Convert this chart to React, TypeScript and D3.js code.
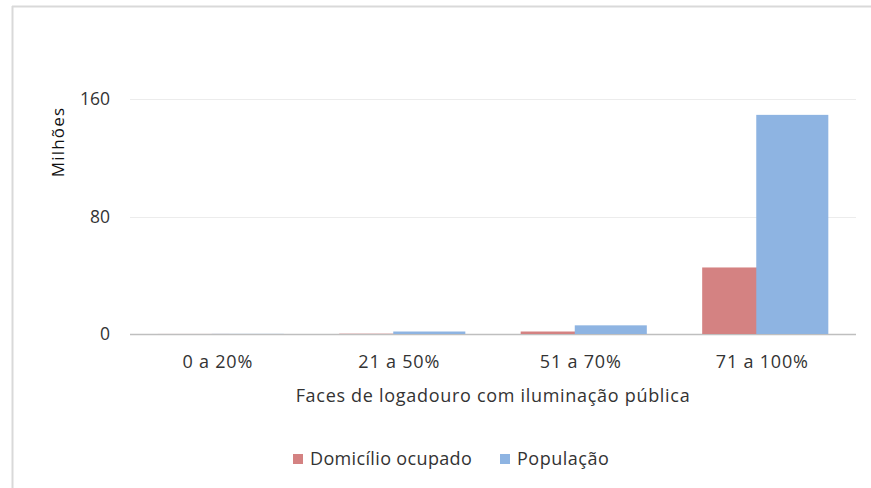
import React, { useEffect } from "react";
import * as d3 from "d3";

const categories = ["0 a 20%", "21 a 50%", "51 a 70%", "71 a 100%"];
const domicilio = [0.03, 0.2, 1.7, 45.3];
const populacao = [0.08, 1.7, 5.9, 149.2];
const seriesNames = ["Domicílio ocupado", "População"];
const yTicks = [0, 80, 160];

const W = 871;
const H = 488;
const FONT = "'Open Sans', Lato, sans-serif";
const TEXT = "#333333";
const RED = "#d48282";
const BLUE = "#8eb4e2";

export default function App() {
  useEffect(() => {
    document.body.style.margin = "0";
  }, []);

  const x = d3.scaleBand<string>().domain(categories).range([130, 856]).paddingInner(0).paddingOuter(0);
  const y = d3.scaleLinear().domain([0, 160]).range([334, 99]);
  const step = x.step();
  const groupW = step * 0.695;
  const barW = step * 0.397;

  return (
    <svg width={W} height={H} style={{ position: "absolute", left: 0, top: 0, background: "#fff" }}>
      <rect x={0} y={0} width={W} height={H} fill="#fff" />
      {/* frame */}
      <line x1={12} x2={W} y1={6.5} y2={6.5} stroke="#d9d9d9" strokeWidth={2} />
      <line x1={12.5} x2={12.5} y1={6} y2={H} stroke="#d9d9d9" strokeWidth={2} />

      {/* gridlines */}
      {yTicks.map((t) => (
        <line
          key={t}
          x1={130}
          x2={856}
          y1={Math.round(y(t)) + 0.5}
          y2={Math.round(y(t)) + 0.5}
          stroke={t === 0 ? "#bfbfbf" : "#ececec"}
          strokeWidth={t === 0 ? 1.5 : 1}
        />
      ))}
      {yTicks.map((t) => (
        <text
          key={"l" + t}
          x={110}
          y={y(t)}
          dy="0.35em"
          textAnchor="end"
          fontFamily={FONT}
          fontSize={17.5}
          fill={TEXT}
        >
          {t}
        </text>
      ))}
      <text
        transform={`translate(58,${142}) rotate(-90)`}
        textAnchor="middle"
        dy="0.35em"
        fontFamily={FONT}
        fontSize={17}
        letterSpacing={1.2}
        fill="#111"
      >
        Milhões
      </text>

      {/* bars */}
      {categories.map((c, i) => {
        const cx = (x(c) as number) + step / 2;
        const rx = cx - groupW / 2;
        const bx = cx + groupW / 2 - barW;
        return (
          <g key={c}>
            <rect x={rx} y={y(domicilio[i])} width={barW} height={y(0) - y(domicilio[i])} fill={RED} />
            <rect x={bx} y={y(populacao[i])} width={barW} height={y(0) - y(populacao[i])} fill={BLUE} />
          </g>
        );
      })}

      {/* category labels */}
      {categories.map((c) => (
        <text
          key={"c" + c}
          x={(x(c) as number) + step / 2 - 3}
          y={362}
          dy="0.35em"
          textAnchor="middle"
          fontFamily={FONT}
          fontSize={18}
          letterSpacing={0.8}
          fill={TEXT}
        >
          {c}
        </text>
      ))}
      <text x={493} y={396} dy="0.35em" textAnchor="middle" fontFamily={FONT} fontSize={18} letterSpacing={0.7} fill={TEXT}>
        Faces de logadouro com iluminação pública
      </text>

      {/* legend */}
      <rect x={293} y={454} width={10} height={10} fill={RED} />
      <text x={310} y={459} dy="0.35em" fontFamily={FONT} fontSize={18} letterSpacing={0.35} fill={TEXT}>
        {seriesNames[0]}
      </text>
      <rect x={500} y={454} width={10} height={10} fill={BLUE} />
      <text x={517} y={459} dy="0.35em" fontFamily={FONT} fontSize={18} letterSpacing={0.5} fill={TEXT}>
        {seriesNames[1]}
      </text>
    </svg>
  );
}
